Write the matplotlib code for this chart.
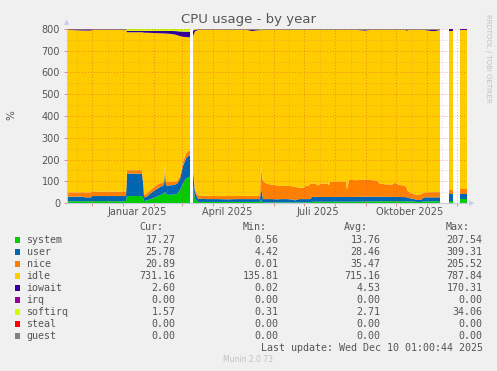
import numpy as np
import matplotlib
matplotlib.use('Agg')
import matplotlib.pyplot as plt
import matplotlib.transforms as mtransforms

nan = np.nan

# day offsets from 2024-11-06 (start of the 400 day window)
days = [0, 16, 17, 18, 24, 25, 35, 45, 59, 59.5, 60, 75, 76.5, 77, 80, 85, 90, 95, 97, 98, 99,
        100, 105, 110, 113, 116, 119, 122, 123, 124.5,
        126, 128, 131, 140, 150, 160, 170, 180, 185, 193, 194, 195, 196, 200, 205, 210, 215,
        220, 226, 228, 232, 237, 238, 242, 243, 245, 249, 250, 252, 253, 261, 262, 263, 270,
        279, 280, 282, 290, 298, 303, 310, 313, 318, 325, 328, 332, 338, 340, 341, 345, 350, 354,
        357, 365, 368, 373, 377,
        382, 386, 389.5,
        393, 400]

system = [8, 8, 8, 8, 8, 8, 9, 8, 8, 20, 32, 32, 20, 9, 12, 20, 30, 40, 45, 50, 42,
          38, 38, 42, 60, 90, 112, 120, 118, nan,
          80, 20, 5, 5, 5, 5, 5, 5, 5, 5, 15, 5, 3, 3, 3, 3, 3,
          3, 3, 3, 3, 3, 3, 3, 3, 6, 6, 6, 6, 6, 6, 6, 6, 6,
          6, 6, 6, 6, 7, 7, 8, 8, 8, 8, 8, 8, 8, 8, 7, 7, 5, 5,
          7, 8, 8, 8, nan,
          8, 8, nan,
          17, 17]

user = [21, 21, 19, 18, 18, 24, 23, 24, 24, 60, 104, 102, 60, 17, 18, 30, 35, 38, 38, 100, 40,
        42, 44, 46, 50, 80, 93, 100, 97, nan,
        70, 30, 15, 13, 13, 12, 13, 13, 13, 13, 54, 40, 15, 15, 15, 14, 15,
        15, 13, 9, 15, 15, 15, 15, 15, 22, 22, 22, 22, 22, 22, 22, 22, 22,
        22, 22, 22, 22, 22, 22, 21, 21, 21, 20, 20, 20, 19, 19, 16, 14, 9, 9,
        19, 18, 18, 18, nan,
        33, 33, nan,
        26, 26]

nice = [20, 20, 22, 23, 23, 20, 20, 21, 20, 18, 15, 17, 14, 11, 15, 15, 20, 15, 15, 25, 16,
        18, 16, 12, 15, 20, 23, 23, 25, nan,
        10, 10, 16, 15, 14, 15, 14, 15, 15, 15, 96, 80, 82, 70, 66, 64, 60,
        62, 60, 63, 52, 52, 61, 61, 72, 62, 62, 54, 54, 62, 62, 52, 70, 69,
        70, 34, 78, 77, 78, 77, 74, 60, 57, 57, 65, 55, 53, 40, 30, 23, 23, 26,
        23, 24, 24, 24, nan,
        19, 19, nan,
        21, 21]

iowait = [3, 6, 6, 6, 6, 3, 3, 3, 3, 4, 6, 6, 7, 8, 8, 9, 10, 11, 11, 12, 12,
          12, 14, 18, 22, 24, 25, 26, 26, nan,
          25, 8, 3, 3, 3, 3, 3, 3, 8, 3, 3, 3, 3, 3, 3, 3, 3,
          3, 3, 3, 3, 3, 3, 3, 3, 3, 3, 3, 3, 3, 3, 3, 3, 3,
          3, 3, 3, 3, 6, 3, 3, 3, 3, 3, 3, 3, 3, 7, 3, 3, 3, 3,
          3, 8, 8, 3, nan,
          8, 8, nan,
          3, 3]

softirq = [1, 1, 1, 1, 1, 1, 1, 1, 1, 5, 9, 9, 9, 9, 9, 9, 9, 9, 9, 9, 9,
           9, 9, 10, 11, 12, 12, 12, 12, nan,
           8, 3, 1.5, 1.5, 1.5, 1.5, 1.5, 1.5, 1.5, 1.5, 3, 2, 2, 1.5, 1.5, 1.5, 1.5,
           1.5, 1.5, 1.5, 1.5, 1.5, 1.5, 1.5, 1.5, 1.5, 1.5, 1.5, 1.5, 1.5, 1.5, 1.5, 1.5, 1.5,
           1.5, 1.5, 1.5, 1.5, 1.5, 1.5, 1.5, 1.5, 1.5, 1.5, 1.5, 1.5, 1.5, 1.5, 1.5, 1.5, 1.5, 1.5,
           1.5, 1.5, 1.5, 1.5, nan,
           1.5, 1.5, nan,
           1.5, 1.5]

total_cpu = 800

names = ['system', 'user', 'nice', 'idle', 'iowait', 'irq', 'softirq', 'steal', 'guest']
colors = ['#00CC00', '#0066B3', '#FF8000', '#FFCC00', '#330099', '#990099', '#CCFF00', '#FF0000', '#808080']
cur = ['17.27', '25.78', '20.89', '731.16', '2.60', '0.00', '1.57', '0.00', '0.00']
mins = ['0.56', '4.42', '0.01', '135.81', '0.02', '0.00', '0.31', '0.00', '0.00']
avgs = ['13.76', '28.46', '35.47', '715.16', '4.53', '0.00', '2.71', '0.00', '0.00']
maxs = ['207.54', '309.31', '205.52', '787.84', '170.31', '0.00', '34.06', '0.00', '0.00']

month_labels = ['Januar 2025', 'April 2025', 'Juli 2025', 'Oktober 2025']
label_dates = ['2025-01-15', '2025-04-15', '2025-07-15', '2025-10-15']

x = np.array(days, dtype=float)
system = np.array(system, dtype=float)
user = np.array(user, dtype=float)
nice = np.array(nice, dtype=float)
iowait = np.array(iowait, dtype=float)
softirq = np.array(softirq, dtype=float)
idle = total_cpu - system - user - nice - iowait - softirq
zeros = np.zeros_like(x) * np.where(np.isnan(system), nan, 1)

layers = [system, user, nice, idle, iowait, zeros, softirq, zeros, zeros]

fig = plt.figure(figsize=(4.97, 3.71), dpi=100, facecolor='#F0F0F0')
ax = fig.add_axes([67 / 497, 168 / 371, 400 / 497, 174 / 371])
ax.set_facecolor('white')

bottom = np.zeros_like(x)
for vals, c in zip(layers, colors):
    top = bottom + vals
    ax.fill_between(x, bottom, top, color=c, linewidth=0, zorder=2)
    bottom = top

ax.set_xlim(0, 400)
ax.set_ylim(0, 800)

# grid
start = np.datetime64('2024-11-06')
months = np.arange('2024-12', '2026-01', dtype='datetime64[M]').astype('datetime64[D]')
major_x = (months - start).astype(int)
minor_x = (months - start).astype(int) - 15
minor_x = minor_x[minor_x > 0]
for xv in major_x:
    ax.axvline(xv, color='#d04040', alpha=0.45, lw=0.7, ls=(0, (1, 2)), zorder=3)
for xv in minor_x:
    ax.axvline(xv, color='#d07070', alpha=0.35, lw=0.7, ls=(0, (1, 2)), zorder=3)
for yv in range(0, 801, 100):
    ax.axhline(yv, color='#d04040', alpha=0.45, lw=0.7, ls=(0, (1, 2)), zorder=3)
for yv in range(50, 800, 100):
    ax.axhline(yv, color='#a08080', alpha=0.35, lw=0.7, ls=(0, (1, 2)), zorder=3)

for s in ['top', 'right']:
    ax.spines[s].set_visible(False)
for s in ['left', 'bottom']:
    ax.spines[s].set_color('#c8c8e0')
    ax.spines[s].set_linewidth(0.8)

ax.set_yticks(range(0, 801, 100))
ax.set_yticklabels([str(v) for v in range(0, 801, 100)])
ax.tick_params(axis='y', labelsize=7, colors='#555555', length=2, pad=3, width=0.6)
ax.tick_params(axis='y', color='#d08080')
ax.set_xticks(major_x)
ax.set_xticklabels([])
ax.tick_params(axis='x', length=2, color='#d08080', width=0.6)

trans = mtransforms.blended_transform_factory(ax.transData, fig.transFigure)
for lab, d in zip(month_labels, label_dates):
    xd = (np.datetime64(d) - start).astype(int)
    ax.text(xd, 1 - 212 / 371, lab, transform=trans, ha='center', va='center',
            fontsize=7, color='#555555')

# axis arrows
fig.text(67 / 497, 1 - 22 / 371, '\u25b2', ha='center', va='center', fontsize=5, color='#c8c8f0')
fig.text(472 / 497, 1 - 203 / 371, '\u25b6', ha='center', va='center', fontsize=5, color='#c8c8f0')

fig.text(249 / 497, 1 - 19 / 371, 'CPU usage - by year', ha='center', va='center',
         fontsize=9.5, color='#555555')
fig.text(11 / 497, 1 - 115 / 371, '%', ha='center', va='center', rotation=90,
         fontsize=7.5, color='#555555')
fig.text(488 / 497, 1 - 58 / 371, 'RRDTOOL / TOBI OETIKER', ha='center', va='center',
         rotation=270, fontsize=5, color='#c0c0c0')

# legend table
mono = 'DejaVu Sans Mono'
fs = 7.2
tc = '#555555'
hy = 1 - 227.5 / 371
for h, xr in zip(['Cur:', 'Min:', 'Avg:', 'Max:'], [163, 267, 368, 470]):
    fig.text(xr / 497, hy, h, ha='right', va='center', fontsize=fs, family=mono, color=tc)
for i, n in enumerate(names):
    yy = 1 - (239.7 + i * 12.0) / 371
    fig.patches.append(plt.Rectangle(((14.5) / 497, yy - 2.8 / 371), 5.5 / 497, 5.5 / 371,
                                     transform=fig.transFigure, color=colors[i], lw=0))
    fig.text(26.5 / 497, yy, n, ha='left', va='center', fontsize=fs, family=mono, color=tc)
    for vals, xr in zip([cur, mins, avgs, maxs], [175.7, 278.3, 380.3, 482.7]):
        fig.text(xr / 497, yy, vals[i], ha='right', va='center', fontsize=fs, family=mono, color=tc)

fig.text(482.7 / 497, 1 - 347.7 / 371, 'Last update: Wed Dec 10 01:00:44 2025', ha='right',
         va='center', fontsize=fs, family=mono, color=tc)
fig.text(248 / 497, 1 - 360 / 371, 'Munin 2.0.73', ha='center', va='center', fontsize=5.5,
         color='#c0c0c0')

fig.savefig('out.png', dpi=100, facecolor='#F0F0F0')
